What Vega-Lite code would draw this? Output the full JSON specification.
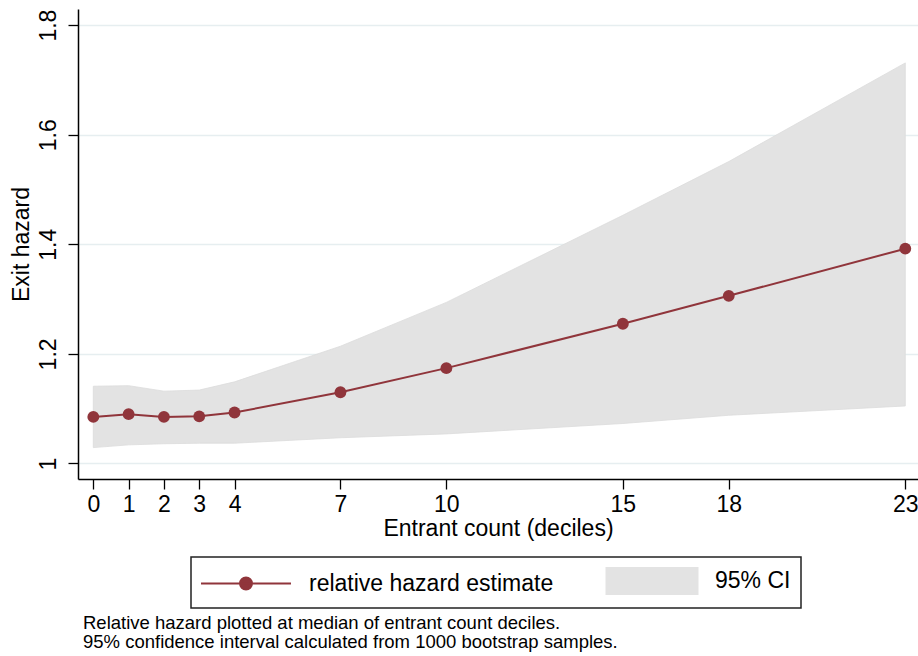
{
  "$schema": "https://vega.github.io/schema/vega-lite/v6.json",
  "autosize": "none",
  "width": 840,
  "height": 470,
  "padding": {"left": 78, "top": 9, "right": 0, "bottom": 177},
  "background": "white",
  "config": {
    "view": {"stroke": null},
    "font": "Liberation Sans",
    "axis": {"labelFont": "Liberation Sans", "titleFont": "Liberation Sans", "labelColor": "black", "titleColor": "black", "titleFontWeight": "normal"}
  },
  "title": {
    "text": ["Relative hazard plotted at median of entrant count deciles.", "95% confidence interval calculated from 1000 bootstrap samples."],
    "orient": "bottom",
    "anchor": "start",
    "frame": "group",
    "dx": 5,
    "offset": 5,
    "fontSize": 18.5,
    "font": "Liberation Sans",
    "fontWeight": "normal",
    "color": "black",
    "lineHeight": 19
  },
  "data": {
    "values": [
      {"x": 0, "est": 1.085, "lo": 1.029, "hi": 1.141},
      {"x": 1, "est": 1.090, "lo": 1.034, "hi": 1.142},
      {"x": 2, "est": 1.085, "lo": 1.036, "hi": 1.132},
      {"x": 3, "est": 1.086, "lo": 1.037, "hi": 1.134},
      {"x": 4, "est": 1.093, "lo": 1.037, "hi": 1.149},
      {"x": 7, "est": 1.130, "lo": 1.047, "hi": 1.214},
      {"x": 10, "est": 1.174, "lo": 1.054, "hi": 1.294},
      {"x": 15, "est": 1.255, "lo": 1.073, "hi": 1.453},
      {"x": 18, "est": 1.306, "lo": 1.088, "hi": 1.551},
      {"x": 23, "est": 1.392, "lo": 1.105, "hi": 1.731}
    ]
  },
  "encoding": {
    "x": {
      "field": "x", "type": "quantitative",
      "scale": {"domain": [-0.434, 23.36], "nice": false, "zero": false},
      "axis": {
        "values": [0, 1, 2, 3, 4, 7, 10, 15, 18, 23],
        "grid": false,
        "domainColor": "black", "domainWidth": 1.5,
        "tickColor": "black", "tickWidth": 1.3, "tickSize": 10,
        "labelFontSize": 23, "labelPadding": 4,
        "title": "Entrant count (deciles)", "titleFontSize": 23, "titlePadding": 1
      }
    }
  },
  "layer": [
    {
      "mark": {"type": "area", "opacity": 1, "stroke": "#dcdcdc", "strokeWidth": 0.8},
      "encoding": {
        "y": {
          "field": "lo", "type": "quantitative",
          "scale": {"domain": [0.9717, 1.8294], "nice": false, "zero": false},
          "axis": {
            "values": [1, 1.2, 1.4, 1.6, 1.8],
            "format": "~g",
            "grid": true, "gridColor": "#e6eef0", "gridWidth": 1.5,
            "domainColor": "black", "domainWidth": 1.5,
            "tickColor": "black", "tickWidth": 1.3, "tickSize": 10,
            "labelAngle": 270, "labelFontSize": 23, "labelPadding": 8,
            "title": "Exit hazard", "titleFontSize": 23, "titlePadding": 4
          }
        },
        "y2": {"field": "hi"},
        "color": {"datum": "95% CI"}
      }
    },
    {
      "mark": {"type": "line", "strokeWidth": 2, "point": {"filled": true, "size": 140, "opacity": 1}},
      "encoding": {
        "y": {"field": "est", "type": "quantitative"},
        "color": {
          "datum": "relative hazard estimate",
          "scale": {"domain": ["relative hazard estimate", "95% CI"], "range": ["#90353b", "#e3e3e3"]},
          "legend": {
            "orient": "none",
            "legendX": 113,
            "legendY": 548,
            "direction": "horizontal",
            "title": null,
            "strokeColor": "#222222",
            "fillColor": "white",
            "padding": 10,
            "symbolSize": 676,
            "symbolOffset": 31,
            "labelOffset": 49,
            "columnPadding": 48,
            "labelFontSize": 23,
            "labelFont": "Liberation Sans",
            "labelColor": "black",
            "labelLimit": 500,
            "encode": {
              "legend": {
                "update": {"strokeWidth": {"value": 1.5}}
              },
              "symbols": {
                "update": {
                  "shape": {"signal": "datum.value === '95% CI' ? 'M-3.5,-1L3.5,-1L3.5,1L-3.5,1Z' : 'M-3.46,0L3.46,0M0.46,0A0.46,0.46,0,1,1,-0.46,0A0.46,0.46,0,1,1,0.46,0Z'"},
                  "fill": {"signal": "datum.value === '95% CI' ? '#e3e3e3' : '#90353b'"},
                  "stroke": {"signal": "datum.value === '95% CI' ? '#e3e3e3' : '#90353b'"},
                  "strokeWidth": {"value": 2},
                  "opacity": {"value": 1}
                }
              }
            }
          }
        }
      }
    }
  ]
}
